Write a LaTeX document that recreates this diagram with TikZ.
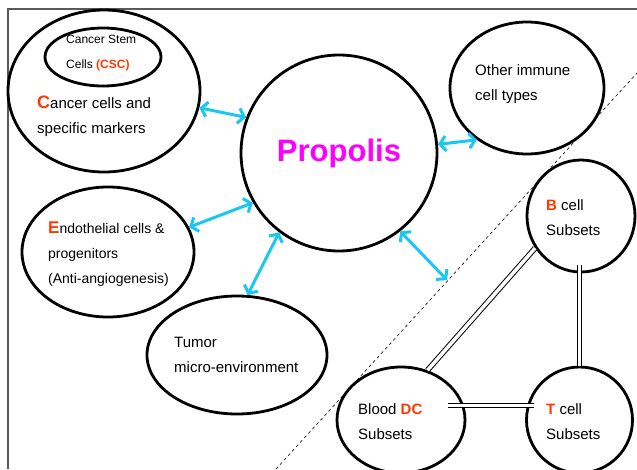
\documentclass[tikz,border=0pt]{standalone}
\usepackage{fontspec}
\setmainfont{Liberation Sans}
\usepackage[HTML]{xcolor}
\usetikzlibrary{shapes.geometric, arrows.meta}
\definecolor{accent}{HTML}{FF3A00}
\definecolor{linkblue}{HTML}{1AC6F2}
\definecolor{propcol}{HTML}{FF00FF}

\begin{document}
\begin{tikzpicture}[x=1pt,y=-1pt,
  cell/.style={draw, ellipse, line width=2.8pt, inner sep=0pt},
  txt/.style={anchor=west, align=left, inner sep=0pt, font=\fontsize{15}{25}\selectfont},
  link/.style={<->, linkblue, line width=3pt, >={Straight Barb[length=6pt,width=15pt]}},
  tie/.style={double, double distance=3.5pt, line width=1pt}]
\useasboundingbox (0,0) rectangle (637,469);
\clip (0,0) rectangle (637,469);
\draw[gray!70!black, line width=1.6pt] (8,469) -- (8,9) -- (637,9);
% region of the immune cells
\coordinate (dashlow) at (276,469);
\coordinate (dashhigh) at (637,73);
\coordinate (split) at (447,280);
\draw[dashed, line width=0.6pt, dash pattern=on 3pt off 3pt] (dashlow) -- (dashhigh);

\node[cell, minimum width=192, minimum height=162] (cancer) at (104,91) {};
\node[cell, minimum width=116, minimum height=58] (csc) at (103,57) {};
\node[cell, minimum width=196, minimum height=196] (propolis) at (339,153)
  {\fontsize{31}{31}\selectfont\bfseries\color{propcol}Propolis};
\node[cell, minimum width=154, minimum height=132] (immune) at (527,88) {};
\node[cell, minimum width=108, minimum height=112] (bcell) at (581,216) {};
\node[cell, minimum width=172, minimum height=130] (endo) at (108,252) {};
\node[cell, minimum width=180, minimum height=118] (tumor) at (237,355) {};
\node[cell, minimum width=128, minimum height=106] (blooddc) at (401,420) {};
\node[cell, minimum width=106, minimum height=106] (tcell) at (579.5,420) {};

\node[txt, font=\fontsize{12}{25}\selectfont] (csctext) at (66,53)
  {Cancer Stem\\Cells {\bfseries\color{accent}(CSC)}};
\node[txt] (cancertext) at (37,116)
  {{\fontsize{18}{25}\selectfont\bfseries\color{accent}C}ancer cells and\\specific markers};
\node[txt] (immunetext) at (475,84) {Other immune\\cell types};
\node[txt] (bcelltext) at (546,218) {{\bfseries\color{accent}B} cell\\Subsets};
\node[txt, font=\fontsize{14}{25}\selectfont] (endotext) at (48,254)
  {{\fontsize{17}{25}\selectfont\bfseries\color{accent}E}ndothelial cells \&\\progenitors\\(Anti-angiogenesis)};
\node[txt] (tumortext) at (174,355) {Tumor\\micro-environment};
\node[txt] (blooddctext) at (358,422) {Blood {\bfseries\color{accent}DC}\\Subsets};
\node[txt] (tcelltext) at (546,422) {{\bfseries\color{accent}T} cell\\Subsets};

\draw[link] (cancer.-10) -- (propolis.159);
\draw[link] (endo.17) -- (propolis.210);
\draw[link] (tumor.80) -- (propolis.233);
\draw[link] (propolis.-52) -- (split);
\draw[link] (propolis.5) -- (immune.226);

\draw[tie] (bcell.215) -- (blooddc.62);
\draw[tie, shorten <=-8pt] (tcell.north |- bcell.south) -- (tcell.north);
\draw[tie, shorten <=-16pt, shorten >=-9pt] (blooddc.13) -- (blooddc.13 -| tcell.west);
\end{tikzpicture}
\end{document}
